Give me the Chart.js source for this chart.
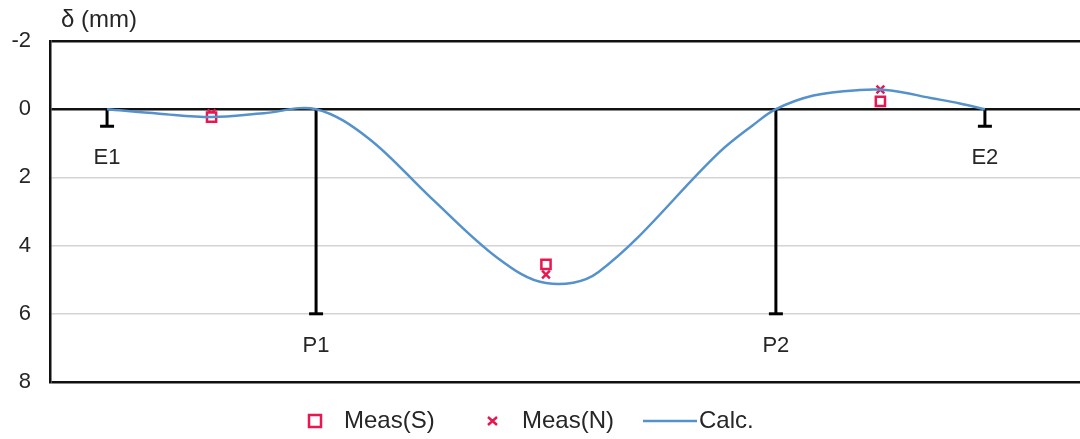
<!DOCTYPE html>
<html>
<head>
<meta charset="utf-8">
<script src="https://cdn.jsdelivr.net/npm/chart.js@4/dist/chart.umd.min.js"></script>
<style>
  html, body { margin: 0; padding: 0; background: #ffffff; }
  #wrap { width: 1080px; height: 439px; position: relative; }
</style>
</head>
<body>
<div id="wrap"><canvas id="c" width="1080" height="439"></canvas></div>
<script>
// ---- data ----
const supportNames = ['E1', 'P1', 'P2', 'E2'];
const supportX = [0, 10, 32, 42];
const supportDepth = [0.5, 6, 6, 0.5];

const measX = [5, 21, 37];
const measS = [0.23, 4.55, -0.23];
const measN = [0.12, 4.85, -0.58];

const calcX = [0, 2.5, 5, 7.5, 10, 12.5, 15.5, 18.7, 21, 23.5, 29.3, 30.9, 32, 33.8, 36, 37.5, 39.4, 40.8, 42];
const calcY = [0, 0.13, 0.23, 0.12, 0, 0.85, 2.6, 4.37, 5.1, 4.78, 1.26, 0.47, 0, -0.4, -0.56, -0.55, -0.33, -0.17, 0];

const yTickValues = [-2, 0, 2, 4, 6, 8];
const yTickLabels = ['-2', '0', '2', '4', '6', '8'];
const yTitle = 'δ (mm)';
const seriesNames = ['Meas(S)', 'Meas(N)', 'Calc.'];

// ---- styles ----
const FONT = "'Liberation Sans', Arial, sans-serif";
const TXT = '#262626';
const RED = '#e8174f';
const BLUE = '#5592cc';

const toPts = (xs, ys) => xs.map((x, i) => ({ x: x, y: ys[i] }));

const supportsPlugin = {
  id: 'supports',
  beforeDatasetsDraw(chart) {
    const { ctx } = chart;
    const xs = chart.scales.x, ys = chart.scales.y;
    ctx.save();
    ctx.strokeStyle = '#000';
    ctx.lineWidth = 3;
    ctx.lineCap = 'butt';
    supportX.forEach((sx, i) => {
      const px = xs.getPixelForValue(sx);
      const p0 = ys.getPixelForValue(0);
      const p1 = ys.getPixelForValue(supportDepth[i]);
      ctx.beginPath();
      ctx.moveTo(px, p0);
      ctx.lineTo(px, p1);
      ctx.stroke();
      ctx.beginPath();
      ctx.moveTo(px - 7, p1);
      ctx.lineTo(px + 7, p1);
      ctx.stroke();
      ctx.fillStyle = TXT;
      ctx.font = '22px ' + FONT;
      ctx.textAlign = 'center';
      ctx.textBaseline = 'middle';
      ctx.fillText(supportNames[i], px, p1 + 32);
    });
    ctx.restore();
  }
};

const extrasPlugin = {
  id: 'extras',
  afterDraw(chart) {
    const { ctx } = chart;
    ctx.save();
    // axis title
    ctx.fillStyle = TXT;
    ctx.font = '24px ' + FONT;
    ctx.textAlign = 'left';
    ctx.textBaseline = 'middle';
    ctx.fillText(yTitle, 61, 20);
    // legend
    const ly = 421;
    const ds = chart.data.datasets;
    // Meas(S)
    ctx.strokeStyle = ds[0].borderColor;
    ctx.lineWidth = 2.5;
    ctx.fillStyle = '#fff';
    ctx.fillRect(309, ly - 6, 12, 12);
    ctx.strokeRect(309, ly - 6, 12, 12);
    // Meas(N)
    ctx.strokeStyle = ds[1].borderColor;
    ctx.beginPath();
    ctx.moveTo(488, ly - 4); ctx.lineTo(497, ly + 4);
    ctx.moveTo(497, ly - 4); ctx.lineTo(488, ly + 4);
    ctx.stroke();
    // Calc.
    ctx.strokeStyle = ds[2].borderColor;
    ctx.lineWidth = 2.5;
    ctx.beginPath();
    ctx.moveTo(643, ly); ctx.lineTo(697, ly);
    ctx.stroke();
    ctx.fillStyle = TXT;
    ctx.font = '24px ' + FONT;
    ctx.textAlign = 'left';
    ctx.fillText(ds[0].label, 344, ly);
    ctx.fillText(ds[1].label, 522, ly);
    ctx.fillText(ds[2].label, 699, ly);
    ctx.restore();
  }
};

new Chart(document.getElementById('c'), {
  type: 'scatter',
  data: {
    datasets: [
      {
        label: seriesNames[0],
        data: toPts(measX, measS),
        pointStyle: 'rect',
        pointRadius: 6.5,
        borderColor: RED,
        backgroundColor: '#ffffff',
        borderWidth: 2.5,
        showLine: false,
        order: 2
      },
      {
        label: seriesNames[1],
        data: toPts(measX, measN),
        pointStyle: 'crossRot',
        pointRadius: 5.5,
        borderColor: RED,
        backgroundColor: RED,
        borderWidth: 2.5,
        showLine: false,
        order: 3
      },
      {
        label: seriesNames[2],
        data: toPts(calcX, calcY),
        showLine: true,
        pointRadius: 0,
        borderColor: BLUE,
        backgroundColor: BLUE,
        borderWidth: 2.5,
        tension: 0.35,
        order: 1
      }
    ]
  },
  options: {
    responsive: false,
    animation: false,
    events: [],
    layout: { autoPadding: false, padding: { top: 41, bottom: 57, left: 0, right: 0 } },
    plugins: { legend: { display: false }, tooltip: { enabled: false }, title: { display: false } },
    scales: {
      x: {
        type: 'linear',
        display: false,
        min: -2.73,
        max: 46.55
      },
      y: {
        type: 'linear',
        reverse: true,
        min: -2,
        max: 8,
        afterFit(s) { s.width = 50; },
        afterBuildTicks(s) { s.ticks = yTickValues.map(v => ({ value: v })); },
        ticks: {
          padding: 19,
          color: TXT,
          font: { family: FONT, size: 22 },
          callback(v) { const i = yTickValues.indexOf(v); return i >= 0 ? yTickLabels[i] : ''; }
        },
        grid: {
          drawTicks: false,
          color(c) { const v = c.tick && c.tick.value; return (v === -2 || v === 0 || v === 8) ? '#111111' : '#d4d4d4'; },
          lineWidth(c) { const v = c.tick && c.tick.value; return (v === -2 || v === 0 || v === 8) ? 2.5 : 1.5; }
        },
        border: { display: true, color: '#111111', width: 2.5 }
      }
    }
  },
  plugins: [supportsPlugin, extrasPlugin]
});
</script>
</body>
</html>
